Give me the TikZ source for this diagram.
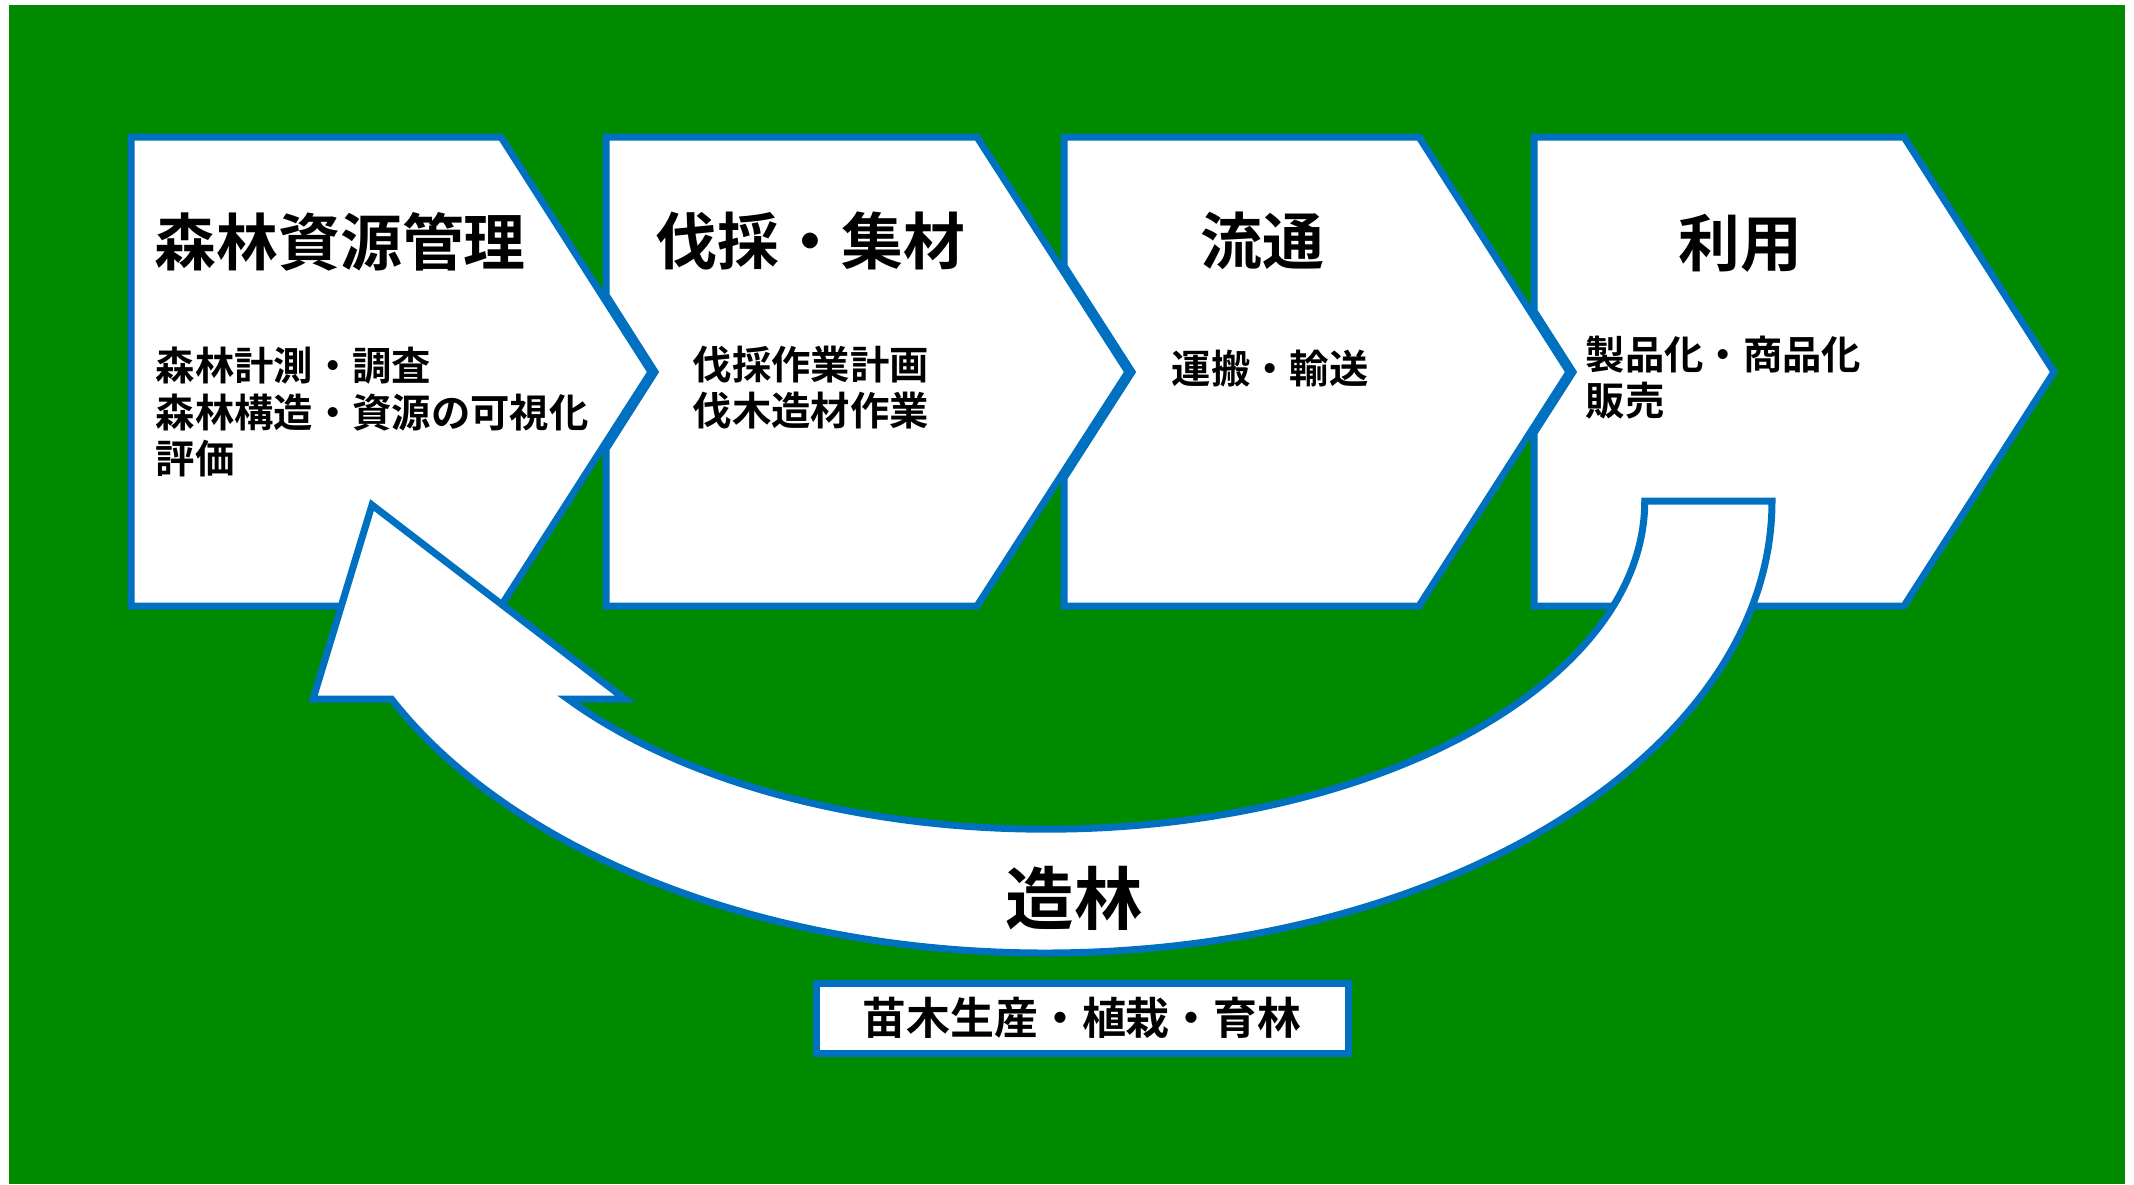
\documentclass[tikz,border=0pt]{standalone}
\usepackage{fontspec}
\setmainfont{Noto Sans CJK JP}[BoldFont={Noto Sans CJK JP Bold}]
\definecolor{ppgreen}{RGB}{0,138,0}
\definecolor{ppblue}{RGB}{0,112,192}
\tikzset{
  chev/.style={draw=ppblue, fill=white, line width=0.7mm, line join=miter},
  band/.style={draw=ppblue, fill=white, line width=0.7mm, line join=miter},
  ttl/.style={anchor=west, inner sep=0pt, font=\bfseries\fontsize{17.6}{20}\selectfont},
  sub/.style={anchor=north west, inner sep=0pt, align=left, font=\bfseries\fontsize{11.2}{13.3}\selectfont},
  bandlabel/.style={inner sep=0pt, font=\bfseries\fontsize{19.5}{22}\selectfont},
  plant/.style={draw=ppblue, fill=white, line width=0.7mm, minimum width=53.2mm, minimum height=7mm, inner sep=0pt, font=\bfseries\fontsize{12.5}{14}\selectfont}
}
\begin{document}
\begin{tikzpicture}[x=0.1mm, y=-0.1mm]
  \useasboundingbox (0,0) rectangle (2134,1184);
  \fill[white] (0,0) rectangle (2134,1184);
  \fill[ppgreen] (9,5) rectangle (2125,1184);

  % process chevrons
  \draw[chev] (131,137) -- (501,137) -- (651,372) -- (501,606) -- (131,606) -- cycle;
  \draw[chev] (606,137) -- (977,137) -- (1128,372) -- (977,606) -- (606,606) -- (606,449) -- (655,372) -- (606,295) -- cycle;
  \draw[chev] (1064,137) -- (1419,137) -- (1569,372) -- (1419,606) -- (1064,606) -- (1064,478) -- (1132,372) -- (1064,266) -- cycle;
  \draw[chev] (1534,137) -- (1904,137) -- (2054,372) -- (1904,606) -- (1534,606) -- (1534,433) -- (1573,372) -- (1534,311) -- cycle;

  \node[ttl] (c1t) at (154,242) {森林資源管理};
  \node[ttl] (c2t) at (655,241) {伐採・集材};
  \node[ttl] (c3t) at (1200,241) {流通};
  \node[ttl] (c4t) at (1678,243) {利用};

  \node[sub] (c1s) at (155,346) {森林計測・調査\\森林構造・資源の可視化\\評価};
  \node[sub] (c2s) at (692,345) {伐採作業計画\\伐木造材作業};
  \node[sub] (c3s) at (1171,349) {運搬・輸送};
  \node[sub] (c4s) at (1585,335) {製品化・商品化\\販売};

  % return arrow
  \draw[band] (1772,501) arc[start angle=0, end angle=154, x radius=727, y radius=452]
    -- (313,699) -- (372,505) -- (625,699) -- (568,699)
    arc[start angle=142.9, end angle=0, x radius=599, y radius=328] -- cycle;
  \node[bandlabel] (zorin) at (1074,898) {造林};

  \node[plant] (naegi) at (1082,1018) {苗木生産・植栽・育林};
\end{tikzpicture}
\end{document}
